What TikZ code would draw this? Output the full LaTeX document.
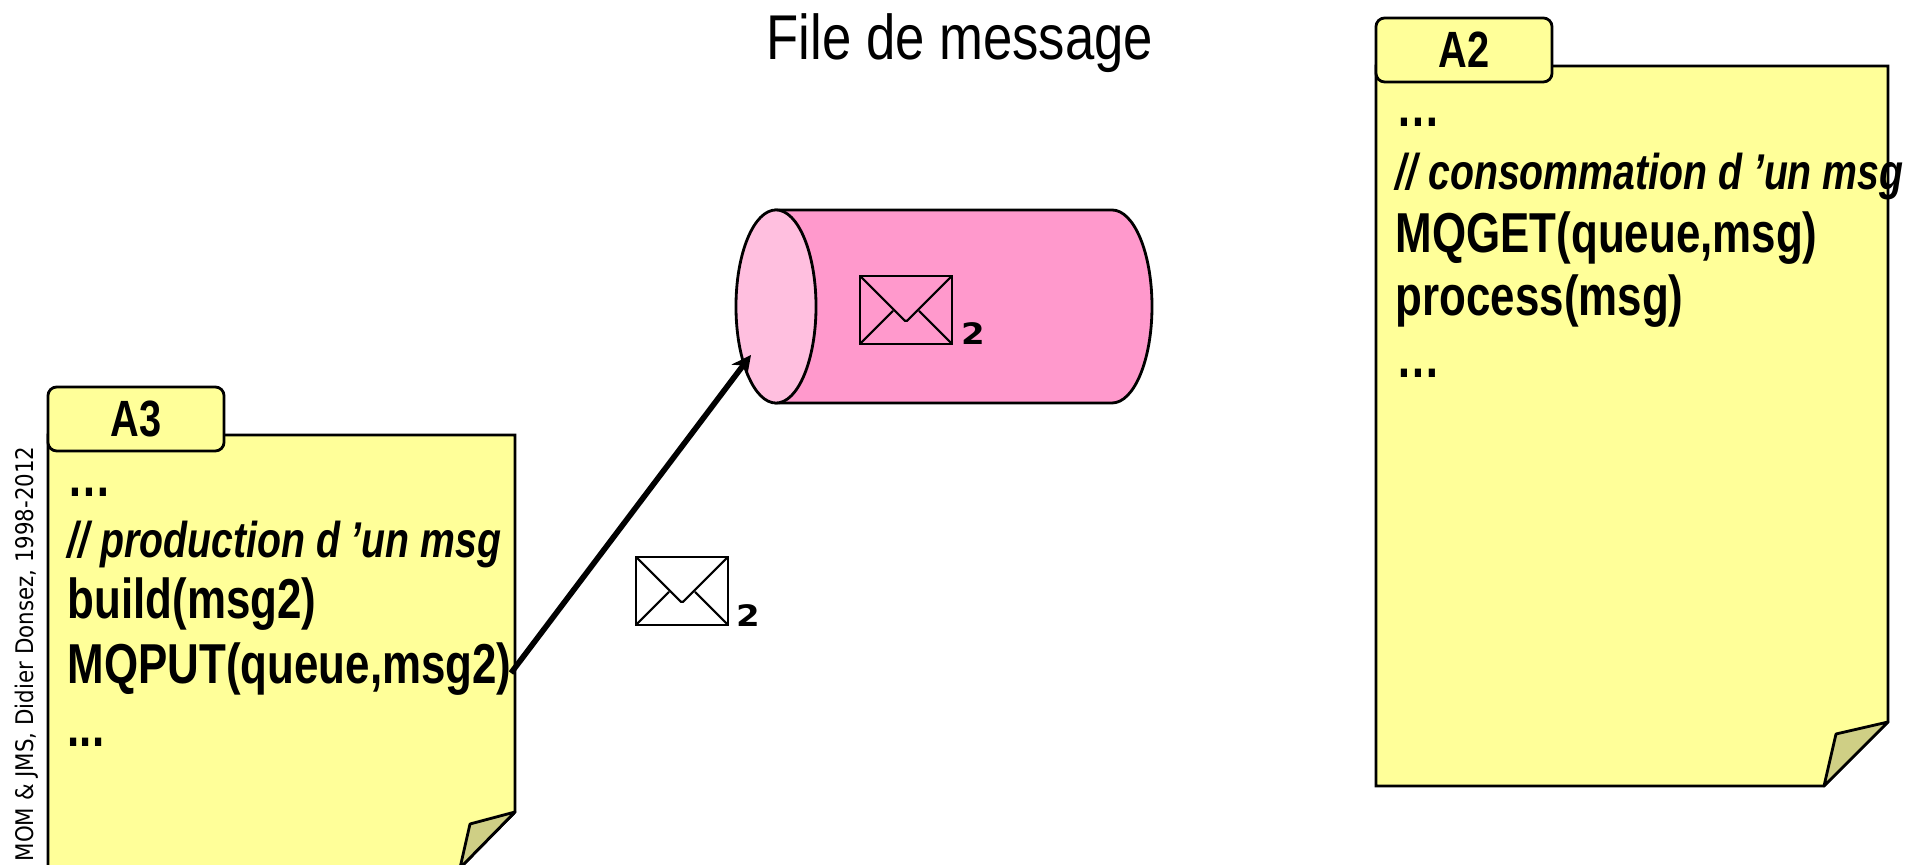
\documentclass[tikz,border=0pt]{standalone}
\usepackage{fontspec}
\usetikzlibrary{arrows.meta,shapes.geometric}
\newfontfamily\notefont[FakeStretch=0.78]{Liberation Sans}
\newfontfamily\titlefont[FakeStretch=0.832]{Liberation Sans}
\newfontfamily\sidefont[FakeStretch=0.88]{DejaVu Sans}
\newfontfamily\countfont[FakeStretch=1.15]{DejaVu Sans}
\definecolor{noteyellow}{HTML}{FFFF99}
\definecolor{notefold}{HTML}{CFCF85}
\definecolor{queuepink}{HTML}{FF99CC}
\definecolor{queueface}{HTML}{FFBFDF}

\begin{document}
\begin{tikzpicture}[x=0.01cm,y=-0.01cm]
            \tikzset{page/.style = {draw=black, fill=noteyellow, line width=0.8pt, line join=miter}}
            \tikzset{fold/.style = {draw=black, fill=notefold, line width=0.8pt, line join=round}}
            \tikzset{tabbox/.style = {shape=rectangle, draw, fill=noteyellow, line width=0.8pt, rounded corners=2.5pt, minimum width=1.76cm, minimum height=0.64cm, inner sep=0pt, font=\notefont\fontsize{14.5}{16}\selectfont\bfseries}}
            \tikzset{code/.style = {anchor=base west, inner sep=0pt, font=\notefont\fontsize{16}{16}\selectfont\bfseries}}
            \tikzset{comment/.style = {code, font=\notefont\fontsize{14.3}{16}\selectfont\bfseries\itshape}}
            \tikzset{count/.style = {anchor=base, inner sep=0pt, font=\countfont\fontsize{8.4}{9}\selectfont\bfseries}}
            \tikzset{envelope/.pic = {
                \draw[line width=0.6pt] (0,0) rectangle (92,68);
                \draw[line width=0.6pt,rounded corners=0.5pt] (0,0) -- (46,46) -- (92,0);
                \draw[line width=0.6pt] (0,68) -- (33,35);
                \draw[line width=0.6pt] (92,68) -- (59,35);
            }}
            \useasboundingbox (0,0) rectangle (1926,865);
            % title and side text
            \node[inner sep=0pt,font=\titlefont\fontsize{18}{18}\selectfont] (title) at (960,43) {File de message};
            \node[rotate=90,anchor=west,inner sep=0pt,font=\sidefont\fontsize{6.9}{7}\selectfont] (side) at (27,862) {MOM \& JMS, Didier Donsez, 1998-2012};
            % queue
            \draw[fill=queuepink,line width=0.8pt] (776,210) -- (1112,210) arc[start angle=-90,end angle=90,x radius=40,y radius=96.5] -- (776,403) -- cycle;
            \node[shape=ellipse,draw,fill=queueface,line width=0.8pt,minimum width=0.8cm,minimum height=1.93cm,inner sep=0pt] (qface) at (776,306.5) {};
            \coordinate (qin) at (751,355);
            \pic at (860,276) {envelope};
            \node[count] (qcount) at (973,345) {2};
            % message on its way
            \pic at (636,557) {envelope};
            \node[count] (mcount) at (748,627) {2};
            % note A3
            \draw[page] (48,435) -- (515,435) -- (515,812) -- (460,868) -- (48,868) -- cycle;
            \draw[fold] (515,812) -- (470,824) -- (460,868) -- cycle;
            \node[tabbox] (a3) at (136,419) {A3};
            \node[code] (a3start) at (67,497) {…};
            \node[comment] (a3note) at (67,558) {// production d ’un msg};
            \node[code] (a3build) at (67,619) {build(msg2)};
            \node[code] (a3put) at (67,684) {MQPUT(queue,msg2)};
            \node[code] (a3end) at (67,747) {...};
            \coordinate (a3out) at (511,673);
            % note A2
            \draw[page] (1376,66) -- (1888,66) -- (1888,722) -- (1824,786) -- (1376,786) -- cycle;
            \draw[fold] (1888,722) -- (1836,734) -- (1824,786) -- cycle;
            \node[tabbox] (a2) at (1464,50) {\raisebox{-0.5pt}{A2}};
            \node[code] (a2start) at (1396,127) {…};
            \node[comment] (a2note) at (1395,190) {// consommation d ’un msg};
            \node[code] (a2get) at (1395,253) {MQGET(queue,msg)};
            \node[code] (a2process) at (1395,316) {process(msg)};
            \node[code] (a2end) at (1396,378) {…};
            % edges
            \draw[-{Stealth[length=5.5pt,width=5.5pt]},black,ultra thick] (a3out) to (qin);
\end{tikzpicture}
\end{document}
